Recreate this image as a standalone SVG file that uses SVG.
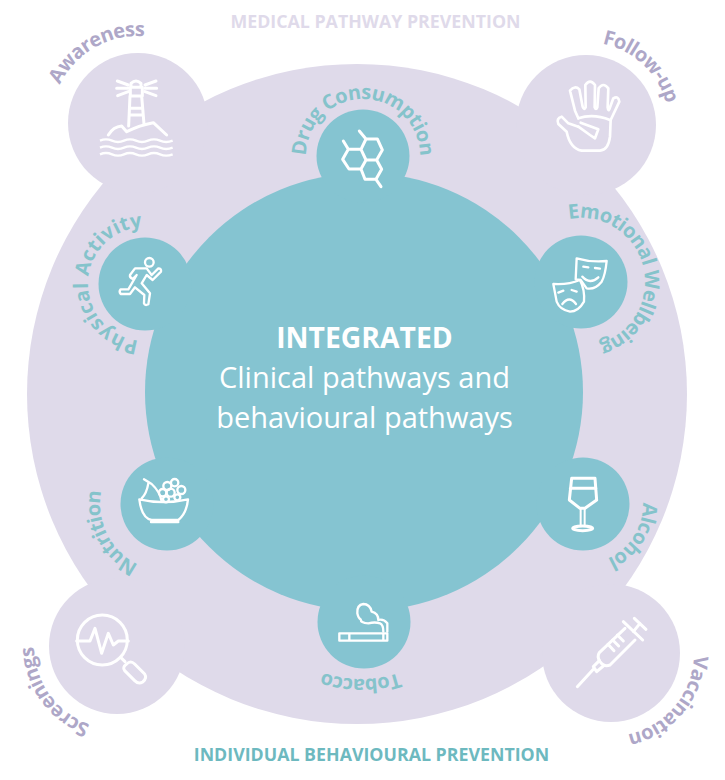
<svg xmlns="http://www.w3.org/2000/svg" width="725" height="780" viewBox="0 0 725 780">
<style>
.lil{fill:#DFDAEA}.tl{fill:#85C4D1}
.lab{font-family:"Open Sans","Liberation Sans",sans-serif;font-weight:700;font-size:20px;text-anchor:middle;letter-spacing:-.6px}
.lt{fill:#AEA7C8}.tt{fill:#85C3CB}
.ic{fill:none;stroke:#fff;stroke-linecap:round;stroke-linejoin:round;stroke-width:9}
.c{font-family:"Open Sans","Liberation Sans",sans-serif;font-size:29px;fill:#fff;text-anchor:middle}
.h{font-family:"Open Sans","Liberation Sans",sans-serif;font-weight:700;font-size:17.800px;text-anchor:middle}
</style>
<defs>
<path id="r57" d="M0,57A57,57 0 1 1 0,-57A57,57 0 1 1 0,57"/>
<path id="r60" d="M0,60A60,60 0 1 1 0,-60A60,60 0 1 1 0,60"/>
<path id="r64" d="M0,64A64,64 0 1 1 0,-64A64,64 0 1 1 0,64"/>
<path id="r67" d="M0,67A67,67 0 1 1 0,-67A67,67 0 1 1 0,67"/>
<path id="r120" d="M0,120A120,120 0 1 1 0,-120A120,120 0 1 1 0,120"/>
<path id="r83" d="M0,83A83,83 0 1 1 0,-83A83,83 0 1 1 0,83"/>
<path id="r87" d="M0,87A87,87 0 1 1 0,-87A87,87 0 1 1 0,87"/>
</defs>
<g id="background"><circle class="lil" cx="357" cy="394" r="330"/></g>
<text class="h" x="375.500" y="28" fill="#DFDAEA">MEDICAL PATHWAY PREVENTION</text>
<text class="h" x="371.500" y="761" fill="#6DB9BF">INDIVIDUAL BEHAVIOURAL PREVENTION</text>

<g id="awareness"><circle class="lil" cx="138" cy="123" r="70"/>
<text class="lab lt" transform="translate(138,123) rotate(-30)"><textPath href="#r87" startOffset="50%">Awareness</textPath></text>
<g class="ic" transform="translate(30,0) scale(.3333)" style="stroke-width:9">
<path d="M262,243L295,255M260,265H295M263,287L295,275M345,255L378,243M345,265H380M345,275L378,287"/>
<path d="M303,262V250Q318,236 333,250V262M301,262H337V288H301ZM300,288L296,378M335,288L342,372M299,325H338M298,345H340"/>
<path d="M235,405Q250,380 275,378L290,395Q330,375 370,368L410,405"/>
<path d="M210,422Q228,414 246,422T282,422T318,422T354,422T390,422T428,422M210,443Q228,435 246,443T282,443T318,443T354,443T390,443T428,443M210,463Q228,455 246,463T282,463T318,463T354,463T390,463T428,463" style="stroke-width:7;stroke-linecap:butt"/>
</g></g>

<g id="follow-up"><circle class="lil" cx="586" cy="125" r="70"/>
<text class="lab lt" transform="translate(586,125) rotate(43)"><textPath href="#r83" startOffset="50%">Follow-up</textPath></text>
<g class="ic" transform="translate(510,20) scale(.3333)" style="stroke-width:8">
<path d="M205,320L175,310L155,290Q138,295 145,312L170,335Q180,385 215,392H270Q295,390 300,350L302,300L328,245Q325,226 310,235L298,268Q295,275 293,262L295,205Q280,185 266,205L262,262Q258,272 254,262L255,195Q240,175 226,195L227,262Q223,272 218,260L208,208Q195,195 180,212L195,272L205,295"/>
<path d="M205,295Q250,280 300,300M205,320L240,345L255,355L265,328L212,308"/>
</g></g>

<g id="screenings"><circle class="lil" cx="117" cy="646" r="68"/>
<text class="lab lt" transform="translate(117,646) rotate(234)"><textPath href="#r83" startOffset="50%">Screenings</textPath></text>
<g class="ic" transform="translate(10,590) scale(.3333)">
<circle cx="277" cy="150" r="75"/>
<path d="M200,153H240L255,115L275,190L295,130L310,165L325,153H355M335,205L345,215"/>
<path d="M350,222Q362,210 374,222L404,252Q412,265 398,276Q386,284 374,272L344,242Q336,232 350,222Z"/>
</g></g>

<g id="vaccination"><circle class="lil" cx="611" cy="653" r="69"/>
<text class="lab lt" transform="translate(611,653) rotate(130)"><textPath href="#r83" startOffset="50%">Vaccination</textPath></text>
<g class="ic" transform="translate(540,590) scale(.3333)">
<path d="M283,85L318,118M300,100L280,125M250,95L308,150"/>
<path d="M255,115L178,188Q170,200 180,215Q192,232 210,225L285,150"/>
<path d="M232,135L250,153M218,150L236,168M204,163L222,182"/>
<path d="M178,212L160,230L170,245L190,228M160,238L112,290"/>
</g></g>

<g id="center"><circle class="tl" cx="364" cy="392" r="219"/></g>

<g id="drug"><circle class="tl" cx="363" cy="156" r="46.500"/>
<text class="lab tt" transform="translate(363,156)"><textPath href="#r57" startOffset="50%">Drug Consumption</textPath></text>
<g class="ic" transform="translate(280,70) scale(.3333)">
<path d="M258,207H292L307,240L290,270H258L243,238ZM205,238H243L258,270L243,297H207L188,268ZM258,270H290L305,298L288,328H255L243,297ZM258,207L238,183M205,238L190,213M288,328L303,350"/>
</g></g>

<g id="physical"><circle class="tl" cx="145" cy="284" r="46.500"/>
<text class="lab tt" style="letter-spacing:.4px" transform="translate(145,284) rotate(-88)"><textPath href="#r57" startOffset="50%">Physical Activity</textPath></text>
<g class="ic" transform="translate(80,200) scale(.3333)" style="stroke-width:7">
<circle cx="208" cy="187" r="13"/>
<path d="M165,205H200L215,225L235,205Q245,205 243,215L218,240L200,225L185,250L210,280L205,313Q195,318 192,310L193,285L165,262L150,282H122Q116,275 122,268H145L170,225L158,237Q148,232 150,225Z"/>
</g></g>

<g id="emotional"><circle class="tl" cx="581" cy="282" r="46.500"/>
<text class="lab tt" transform="translate(581,282) rotate(76)"><textPath href="#r64" startOffset="50%">Emotional Wellbeing</textPath></text>
<g class="ic" transform="translate(530,200) scale(.3333)" style="stroke-width:7">
<path d="M140,175Q185,188 230,183Q226,225 215,245Q195,270 170,265L152,240L137,238Z"/>
<path d="M70,252Q115,255 150,240Q165,270 162,305Q145,335 120,335Q90,330 80,305Z"/>
<path d="M160,200L175,202M195,204L210,206M157,230Q180,255 205,232M85,278L100,272M125,270L140,275M97,312Q118,285 138,312"/>
</g></g>

<g id="alcohol"><circle class="tl" cx="583" cy="504" r="46.500"/>
<text class="lab tt" transform="translate(583,504) rotate(122)"><textPath href="#r60" startOffset="50%">Alcohol</textPath></text>
<g class="ic" transform="translate(530,450) scale(.3333)">
<path d="M125,85H195L200,150L165,175H150L118,150ZM121,115H198"/>
<path d="M152,175V225M164,175V225" style="stroke-width:6"/>
<ellipse cx="158" cy="235" rx="30" ry="7"/>
</g></g>

<g id="nutrition"><circle class="tl" cx="167" cy="504" r="46.500"/>
<text class="lab tt" transform="translate(167,504) rotate(243)"><textPath href="#r67" startOffset="50%">Nutrition</textPath></text>
<g class="ic" transform="translate(80,470) scale(.3333)" style="stroke-width:7">
<path d="M178,88Q250,105 324,88M178,88Q185,145 215,150H295Q320,130 324,88M213,156H295"/>
<path d="M192,28L215,42M205,40Q200,70 185,85M215,42Q240,65 245,95"/>
<circle cx="262" cy="48" r="12"/><circle cx="284" cy="38" r="11"/><circle cx="304" cy="60" r="12"/><circle cx="248" cy="68" r="11"/><circle cx="272" cy="68" r="12"/><circle cx="292" cy="82" r="9"/><circle cx="258" cy="88" r="9"/>
</g></g>

<g id="tobacco"><circle class="tl" cx="364" cy="622" r="46.500"/>
<text class="lab tt" transform="translate(361,559) rotate(180)"><textPath href="#r120" startOffset="50%">Tobacco</textPath></text>
<g class="ic" transform="translate(300,580) scale(.3333)" style="stroke-width:7">
<path d="M118,160H262V182H118ZM148,160V182M250,160V182"/>
<path d="M250,155Q250,135 240,130Q225,125 205,130Q182,130 182,118Q175,115 172,100Q170,75 190,72Q210,72 215,95Q235,100 235,120Q250,115 262,130V155"/>
</g></g>

<text class="c" x="364.500" y="348" style="font-weight:700;font-size:28.300px">INTEGRATED</text>
<text class="c" x="364.500" y="388">Clinical pathways and</text>
<text class="c" x="364.500" y="428">behavioural pathways</text>
</svg>
